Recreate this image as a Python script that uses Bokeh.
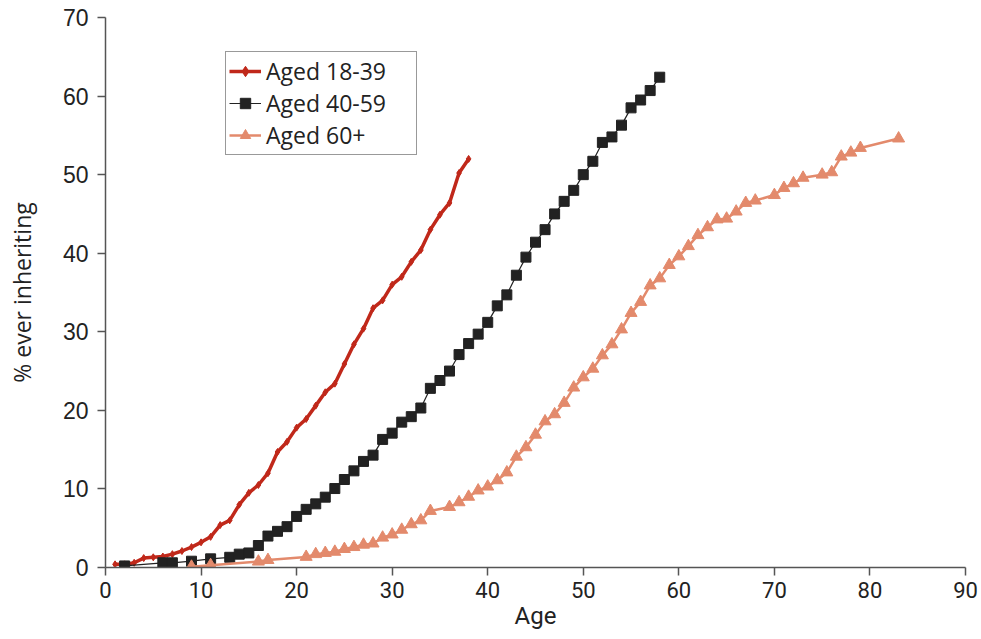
from bokeh.plotting import figure
from bokeh.models import Range1d, Legend, LegendItem, FixedTicker
from bokeh.embed import file_html
from bokeh.resources import INLINE

# ---- data ----
age_young = [1, 2, 3, 4, 5, 6, 7, 8, 9, 10, 11, 12, 13, 14, 15, 16, 17, 18, 19, 20,
             21, 22, 23, 24, 25, 26, 27, 28, 29, 30, 31, 32, 33, 34, 35, 36, 37, 38]
pct_young = [0.4, 0.4, 0.6, 1.2, 1.3, 1.4, 1.7, 2.1, 2.6, 3.2, 3.9, 5.4, 6.0, 8.0, 9.5, 10.5, 12.0, 14.7, 16.0, 17.8,
             18.9, 20.6, 22.3, 23.4, 25.9, 28.4, 30.4, 33.0, 34.0, 36.0, 37.0, 38.9, 40.4, 43.0, 44.9, 46.4, 50.2, 52.0]

age_mid = [2, 6, 7, 9, 11, 13, 14, 15, 16, 17, 18, 19, 20, 21, 22, 23, 24, 25, 26, 27,
           28, 29, 30, 31, 32, 33, 34, 35, 36, 37, 38, 39, 40, 41, 42, 43, 44, 45, 46, 47,
           48, 49, 50, 51, 52, 53, 54, 55, 56, 57, 58]
pct_mid = [0.2, 0.6, 0.6, 0.8, 1.1, 1.3, 1.7, 1.85, 2.8, 4.0, 4.6, 5.2, 6.5, 7.4, 8.1, 8.95, 10.05, 11.2, 12.3, 13.5,
           14.3, 16.3, 17.1, 18.5, 19.2, 20.3, 22.8, 23.8, 25.0, 27.1, 28.5, 29.7, 31.2, 33.3, 34.7, 37.2, 39.5, 41.4, 43.0, 45.0,
           46.6, 48.0, 50.0, 51.7, 54.1, 54.8, 56.3, 58.5, 59.5, 60.7, 62.4]

age_old = [9, 11, 16, 17, 21, 22, 23, 24, 25, 26, 27, 28, 29, 30, 31, 32, 33, 34, 36, 37,
           38, 39, 40, 41, 42, 43, 44, 45, 46, 47, 48, 49, 50, 51, 52, 53, 54, 55, 56, 57,
           58, 59, 60, 61, 62, 63, 64, 65, 66, 67, 68, 70, 71, 72, 73, 75, 76, 77, 78, 79, 83]
pct_old = [0.1, 0.3, 0.75, 0.95, 1.35, 1.7, 1.85, 2.0, 2.35, 2.6, 2.9, 3.05, 3.8, 4.2, 4.8, 5.5, 6.0, 7.2, 7.7, 8.3,
           9.0, 9.8, 10.3, 11.1, 12.1, 14.1, 15.3, 16.9, 18.6, 19.5, 20.95, 22.9, 24.2, 25.3, 27.0, 28.4, 30.3, 32.4, 33.8, 35.9,
           36.8, 38.5, 39.6, 40.9, 42.3, 43.3, 44.3, 44.4, 45.3, 46.4, 46.7, 47.4, 48.3, 48.9, 49.6, 50.0, 50.3, 52.3, 52.8, 53.4, 54.6]

series_labels = ["Aged 18-39", "Aged 40-59", "Aged 60+"]
x_ticks = [0, 10, 20, 30, 40, 50, 60, 70, 80, 90]
y_ticks = [0, 10, 20, 30, 40, 50, 60, 70]

RED = "#C0281A"
BLACK = "#222222"
ORANGE = "#E38A6C"
CONDENSED = "Roboto"

p = figure(width=981, height=639, output_backend="svg", toolbar_location=None,
           x_range=Range1d(0, 90), y_range=Range1d(0, 70),
           min_border_left=105, min_border_right=16, min_border_top=17, min_border_bottom=72)
p.outline_line_color = None
p.grid.visible = False
p.background_fill_color = "white"
p.border_fill_color = "white"

# series
r1l = p.line(age_young, pct_young, line_color=RED, line_width=3.5)
r1m = p.scatter(age_young, pct_young, marker="diamond", size=7, color=RED)
r2l = p.line(age_mid, pct_mid, line_color=BLACK, line_width=1.2)
r2m = p.scatter(age_mid, pct_mid, marker="square", size=10, color=BLACK)
r3l = p.line(age_old, pct_old, line_color=ORANGE, line_width=2.5)
r3m = p.scatter(age_old, pct_old, marker="triangle", size=12, color=ORANGE)

# axes
for ax in (p.xaxis[0], p.yaxis[0]):
    ax.axis_line_color = "#555555"
    ax.axis_line_width = 1.5
    ax.major_tick_line_color = "#555555"
    ax.major_tick_line_width = 1.5
    ax.major_tick_in = 0
    ax.major_tick_out = 8
    ax.minor_tick_line_color = None
    ax.major_label_text_color = "#222222"
    ax.axis_label_text_color = "#222222"
    ax.axis_label_text_font_style = "normal"

p.xaxis.ticker = FixedTicker(ticks=x_ticks)
p.yaxis.ticker = FixedTicker(ticks=y_ticks)
p.xaxis.major_label_text_font = CONDENSED
p.xaxis.major_label_text_font_size = "22px"
p.xaxis.axis_label = "Age"
p.xaxis.axis_label_text_font = CONDENSED
p.xaxis.axis_label_text_font_size = "24px"
p.xaxis.axis_label_standoff = 1
p.xaxis.major_label_standoff = 6

p.yaxis.major_label_text_font = "Liberation Sans"
p.yaxis.major_label_text_font_size = "23px"
p.yaxis.axis_label = "% ever inheriting"
p.yaxis.axis_label_text_font = "Open Sans"
p.yaxis.axis_label_text_font_size = "23px"
p.yaxis.axis_label_standoff = 22
p.yaxis.major_label_standoff = 9

legend = Legend(items=[
    LegendItem(label=series_labels[0], renderers=[r1l, r1m]),
    LegendItem(label=series_labels[1], renderers=[r2l, r2m]),
    LegendItem(label=series_labels[2], renderers=[r3l, r3m]),
], location=(120, 412))
legend.border_line_color = "#333333"
legend.border_line_width = 1.2
legend.background_fill_alpha = 1
legend.label_text_font = "Open Sans"
legend.label_text_font_size = "23px"
legend.label_text_color = "#222222"
legend.glyph_width = 32
legend.glyph_height = 26
legend.label_height = 26
legend.label_width = 147
legend.spacing = 0
legend.padding = 3
legend.margin = 0
legend.label_standoff = 5
p.add_layout(legend, "center")

open("out.html", "w").write(file_html(p, INLINE))
